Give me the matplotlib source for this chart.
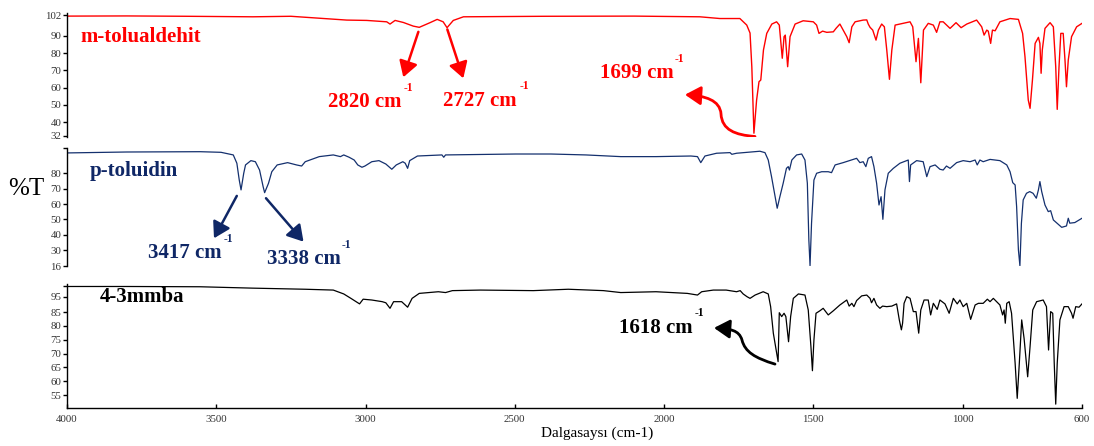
import matplotlib
matplotlib.use("Agg")
import matplotlib.pyplot as plt
from matplotlib.patches import FancyArrowPatch
from matplotlib.path import Path

plt.rcParams['font.family'] = ['Liberation Serif', 'DejaVu Serif']

# ---- spectra: (wavenumber cm-1, %T) ----
tolualdehyde_wn = [4000, 3800, 3600, 3377, 3250, 3063, 2996, 2929, 2918, 2901, 2873, 2840, 2820, 2784,
                   2760, 2740, 2727, 2706, 2672, 2400, 2100, 1880, 1813, 1746, 1723, 1712, 1706, 1699,
                   1690, 1682, 1676, 1667, 1656, 1639, 1623, 1614, 1604, 1598, 1594, 1586, 1578, 1561,
                   1534, 1500, 1489, 1481, 1469, 1455, 1433, 1424, 1411, 1400, 1388, 1380, 1371, 1360,
                   1333, 1321, 1316, 1310, 1301, 1290, 1282, 1271, 1262, 1254, 1245, 1237, 1226, 1176,
                   1167, 1156, 1148, 1140, 1131, 1115, 1098, 1087, 1076, 1065, 1042, 1022, 1005, 986,
                   953, 936, 928, 919, 914, 906, 900, 891, 875, 841, 813, 799, 791, 780, 774, 766, 757,
                   746, 741, 737, 733, 724, 707, 696, 688, 683, 677, 671, 663, 657, 652, 646, 635, 618, 600]
tolualdehyde_t = [101.4, 101.5, 101.3, 101.0, 101.3, 99.1, 98.9, 98.1, 96.8, 98.9, 97.7, 95.6, 94.9, 97.6,
                  99.5, 98.1, 94.7, 98.9, 101.0, 101.3, 101.4, 101.0, 100.0, 100.0, 96.2, 91.6, 72.0, 33.6,
                  52.8, 63.4, 64.4, 81.8, 91.4, 96.8, 98.1, 96.2, 77.0, 89.5, 90.4, 72.1, 89.5, 96.8,
                  98.7, 98.1, 96.2, 91.4, 92.7, 92.0, 92.3, 94.3, 96.8, 93.3, 89.5, 86.0, 95.2, 98.1,
                  99.1, 99.2, 96.8, 94.9, 93.3, 87.5, 93.3, 96.8, 95.2, 81.8, 64.8, 81.8, 96.2, 98.1,
                  95.2, 75.0, 88.5, 62.8, 93.3, 97.2, 96.2, 92.0, 98.1, 98.1, 94.3, 97.6, 94.7, 96.8,
                  99.1, 95.2, 90.4, 93.3, 92.7, 85.6, 93.3, 92.9, 98.1, 100.0, 99.5, 91.4, 77.9, 52.8,
                  48.0, 64.4, 85.6, 89.1, 85.6, 68.3, 81.8, 94.3, 97.6, 95.2, 72.1, 47.4, 72.1, 91.4,
                  91.4, 76.0, 60.5, 76.0, 89.5, 95.2, 97.2]

toluidine_wn = [4000, 3800, 3554, 3484, 3443, 3431, 3423, 3417, 3408, 3402, 3384, 3369, 3355, 3343, 3338,
                3325, 3314, 3296, 3261, 3231, 3214, 3202, 3155, 3108, 3084, 3073, 3055, 3038, 3026, 3012,
                3002, 2979, 2955, 2932, 2912, 2897, 2875, 2867, 2859, 2852, 2826, 2744, 2738, 2732, 2497,
                2379, 2262, 2145, 2027, 1910, 1888, 1877, 1863, 1824, 1779, 1773, 1757, 1679, 1662, 1651,
                1640, 1628, 1621, 1612, 1601, 1590, 1584, 1580, 1572, 1556, 1539, 1528, 1520, 1515, 1511,
                1506, 1498, 1489, 1472, 1450, 1439, 1427, 1400, 1355, 1344, 1333, 1324, 1316, 1305, 1297,
                1288, 1280, 1273, 1267, 1260, 1249, 1232, 1210, 1182, 1178, 1174, 1154, 1132, 1120, 1109,
                1092, 1076, 1065, 1054, 1042, 1020, 998, 975, 958, 951, 942, 931, 908, 875, 852, 841, 832,
                824, 819, 813, 808, 803, 797, 786, 775, 764, 753, 746, 741, 735, 724, 713, 705, 696, 668,
                652, 646, 641, 624, 600]
toluidine_t = [93.2, 93.8, 94.0, 93.6, 91.9, 86.5, 75.6, 69.2, 80.0, 85.4, 88.2, 87.5, 82.1, 71.3, 67.4,
               73.5, 81.0, 85.4, 86.9, 85.4, 84.7, 87.5, 90.8, 91.9, 90.8, 91.9, 90.4, 88.6, 85.4, 83.9,
               84.7, 87.5, 88.2, 86.0, 82.6, 85.4, 87.5, 86.5, 83.2, 88.2, 91.2, 91.9, 90.4, 91.9, 92.5,
               92.5, 91.9, 90.8, 90.8, 91.2, 90.8, 86.9, 91.2, 93.0, 93.4, 92.3, 93.0, 94.3, 93.4, 88.6,
               77.8, 64.8, 57.3, 64.8, 73.5, 83.2, 84.3, 82.1, 88.6, 91.9, 92.5, 88.6, 73.5, 36.7, 20.0,
               47.5, 75.6, 80.0, 81.0, 81.0, 80.4, 85.4, 86.9, 89.7, 86.9, 87.5, 84.3, 89.7, 90.8, 84.3,
               73.5, 59.4, 64.8, 50.1, 69.2, 80.0, 83.2, 86.5, 88.6, 74.6, 85.4, 88.2, 87.5, 77.8, 84.3,
               85.4, 82.6, 82.1, 84.7, 83.2, 86.9, 88.2, 87.5, 88.6, 85.4, 88.6, 87.5, 89.0, 88.2, 85.4,
               81.0, 73.9, 72.4, 58.3, 30.2, 20.0, 47.5, 62.7, 67.0, 68.1, 67.0, 63.8, 69.2, 74.6, 68.1,
               59.4, 55.1, 55.7, 49.7, 44.9, 45.8, 50.8, 47.6, 48.0, 50.8]

mmba_wn = [4000, 3800, 3554, 3378, 3202, 3108, 3073, 3049, 3020, 3008, 2979, 2944, 2932, 2918, 2906, 2879,
           2859, 2844, 2820, 2756, 2732, 2709, 2615, 2438, 2321, 2203, 2145, 2027, 1922, 1888, 1874, 1835,
           1792, 1757, 1745, 1735, 1722, 1712, 1695, 1668, 1651, 1643, 1634, 1618, 1614, 1606, 1598, 1592,
           1583, 1576, 1567, 1550, 1528, 1517, 1508, 1503, 1498, 1491, 1478, 1467, 1450, 1433, 1411, 1388,
           1380, 1371, 1364, 1355, 1338, 1321, 1310, 1305, 1297, 1288, 1277, 1268, 1254, 1237, 1221, 1212,
           1205, 1201, 1196, 1187, 1176, 1165, 1156, 1147, 1140, 1129, 1115, 1107, 1098, 1085, 1076, 1059,
           1045, 1031, 1018, 1009, 998, 986, 973, 958, 947, 931, 917, 908, 897, 886, 875, 866, 861, 857,
           852, 844, 836, 824, 817, 810, 802, 794, 782, 774, 765, 752, 730, 719, 712, 705, 698, 693, 688,
           683, 674, 660, 646, 635, 630, 621, 610, 600]
mmba_t = [94.3, 94.3, 94.2, 93.7, 93.3, 93.0, 91.6, 90.0, 88.0, 89.7, 89.4, 88.8, 88.4, 86.4, 88.8, 88.8,
          86.8, 90.0, 91.8, 92.4, 92.1, 92.8, 93.0, 92.8, 93.3, 92.8, 92.1, 92.4, 91.8, 91.2, 92.4, 93.0,
          93.0, 92.4, 92.8, 91.6, 90.6, 90.0, 91.2, 92.4, 91.6, 87.0, 77.4, 67.1, 84.8, 83.4, 84.6, 83.4,
          74.3, 83.4, 90.0, 91.6, 91.2, 85.8, 72.5, 63.8, 74.9, 84.6, 85.5, 86.4, 84.0, 85.5, 87.6, 89.4,
          87.2, 88.2, 87.0, 89.2, 90.9, 91.2, 90.0, 88.4, 90.0, 87.6, 86.4, 87.2, 87.0, 87.2, 88.0, 82.2,
          78.6, 81.0, 88.2, 90.6, 90.0, 85.2, 85.2, 77.4, 85.8, 89.4, 89.4, 84.0, 88.2, 86.0, 89.4, 88.0,
          84.6, 90.0, 88.0, 89.4, 87.0, 88.2, 82.4, 87.6, 88.2, 88.2, 89.7, 88.8, 90.0, 88.8, 87.6, 84.0,
          85.8, 81.0, 88.2, 88.8, 84.6, 66.5, 53.8, 66.5, 82.2, 75.5, 61.6, 72.5, 85.8, 88.8, 89.4, 87.0,
          71.3, 85.2, 84.6, 66.5, 51.7, 66.5, 82.2, 87.0, 87.0, 84.6, 82.8, 87.0, 86.8, 88.0]

x_ticks = [4000, 3500, 3000, 2500, 2000, 1500, 1000, 600]
x_tick_labels = ['4000', '3500', '3000', '2500', '2000', '1500', '1000', '600']

top_yticks = [32, 40, 50, 60, 70, 80, 90, 102]
top_ylabels = ['32', '40', '50', '60', '70', '80', '90', '102']
mid_yticks = [19.8, 30, 40, 50, 60, 70, 80, 96.4]
mid_ylabels = ['16', '30', '40', '50', '60', '70', '80', '']
bot_yticks = [55, 60, 65, 70, 75, 80, 85, 90.6, 94.6]
bot_ylabels = ['55', '60', '65', '70', '75', '80', '85', '95', '']

RED = '#ff0000'
NAVY = '#14306e'
NAVY_TXT = '#0f2766'
TICK_C = '#333333'

W, H = 1094, 446
fig = plt.figure(figsize=(W / 100, H / 100), dpi=100)

left, width = 67 / W, 1015 / W
ax_top = fig.add_axes([left, 1 - 137 / H, width, 124 / H])
ax_mid = fig.add_axes([left, 1 - 266 / H, width, 118 / H])
ax_bot = fig.add_axes([left, 1 - 408 / H, width, 124 / H])

ax_top.plot(tolualdehyde_wn, tolualdehyde_t, color=RED, lw=1.0)
ax_mid.plot(toluidine_wn, toluidine_t, color=NAVY, lw=0.9)
ax_bot.plot(mmba_wn, mmba_t, color='black', lw=0.9)

ax_top.set_ylim(31.4, 103.2)
ax_mid.set_ylim(19.8, 96.4)
ax_bot.set_ylim(50.3, 95.2)

for ax, ticks, labels in [(ax_top, top_yticks, top_ylabels),
                          (ax_mid, mid_yticks, mid_ylabels),
                          (ax_bot, bot_yticks, bot_ylabels)]:
    ax.set_xlim(4000, 600)
    ax.set_facecolor('none')
    ax.spines['top'].set_visible(False)
    ax.spines['right'].set_visible(False)
    ax.spines['left'].set_linewidth(1.0)
    ax.set_yticks(ticks)
    ax.set_yticklabels(labels)
    ax.tick_params(axis='y', direction='out', length=3, width=1.0, pad=1,
                   labelsize=7.8, labelcolor=TICK_C)

for ax in (ax_top, ax_mid):
    ax.spines['bottom'].set_visible(False)
    ax.set_xticks([])

ax_bot.spines['bottom'].set_linewidth(1.0)
ax_bot.set_xticks(x_ticks)
ax_bot.set_xticklabels(x_tick_labels)
ax_bot.tick_params(axis='x', direction='in', length=3, width=1.0, pad=5,
                   labelsize=7.8, labelcolor=TICK_C)

# panel names
ax_top.text(3956, 86.6, 'm-tolualdehit', color=RED, fontsize=15, fontweight='bold', va='baseline')
ax_mid.text(3923, 78.2, 'p-toluidin', color=NAVY_TXT, fontsize=15, fontweight='bold', va='baseline')
ax_bot.text(3890, 88.8, '4-3mmba', color='black', fontsize=15, fontweight='bold', va='baseline')

HEAD = '-|>,head_length=0.5,head_width=0.3'


def band_label(ax, x, y, sx, sy, text, color):
    ax.text(x, y, text, color=color, fontsize=15, fontweight='bold', va='baseline', ha='left')
    ax.text(sx, sy, '-1', color=color, fontsize=8.5, fontweight='bold', va='baseline', ha='left')


def straight_arrow(ax, start, end, color):
    ax.add_patch(FancyArrowPatch(start, end, arrowstyle=HEAD, mutation_scale=19,
                                 color=color, lw=1.8, shrinkA=0, shrinkB=0))


def curved_arrow(ax, pts, color, lw):
    codes = [Path.MOVETO] + [Path.CURVE4] * (len(pts) - 1)
    ax.add_patch(FancyArrowPatch(path=Path(pts, codes), arrowstyle=HEAD, mutation_scale=19,
                                 color=color, lw=lw, transform=ax.transData))


# m-tolualdehit bands
band_label(ax_top, 3125.7, 49.0, 2873, 58.2, '2820 cm', RED)
band_label(ax_top, 2739.5, 49.4, 2485, 59.0, '2727 cm', RED)
band_label(ax_top, 2214.6, 65.7, 1963, 75.0, '1699 cm', RED)
straight_arrow(ax_top, (2823, 92.3), (2873.5, 66.0), RED)
straight_arrow(ax_top, (2726, 93.7), (2672.5, 65.4), RED)
curved_arrow(ax_top, [(1695.4, 31.7), (1762.4, 32.6), (1805.9, 35.5), (1809.2, 44.7),
                      (1812.6, 52.8), (1862.9, 55.2), (1930.0, 55.9)], RED, 2.0)

# p-toluidin bands
band_label(ax_mid, 3727.7, 24.8, 3474, 35.6, '3417 cm', NAVY_TXT)
band_label(ax_mid, 3331.4, 21.1, 3079, 31.3, '3338 cm', NAVY_TXT)
straight_arrow(ax_mid, (3431.2, 65.3), (3507.6, 37.8), NAVY_TXT)
straight_arrow(ax_mid, (3333.4, 63.8), (3207.8, 35.6), NAVY_TXT)

# 4-3mmba band
band_label(ax_bot, 2151, 77.3, 1898, 83.6, '1618 cm', 'black')
curved_arrow(ax_bot, [(1628.4, 66.2), (1695.4, 68.4), (1728.9, 70.6), (1738.9, 74.9),
                      (1749.0, 78.6), (1779.1, 78.9), (1832.7, 79.3)], 'black', 2.0)

fig.text(26 / W, 1 - 189 / H, '%T', fontsize=18, ha='center', va='center')
fig.text(597 / W, 1 - 437 / H, 'Dalgasaysı (cm-1)', fontsize=11, ha='center', va='baseline')

fig.savefig('out.png', dpi=100)
